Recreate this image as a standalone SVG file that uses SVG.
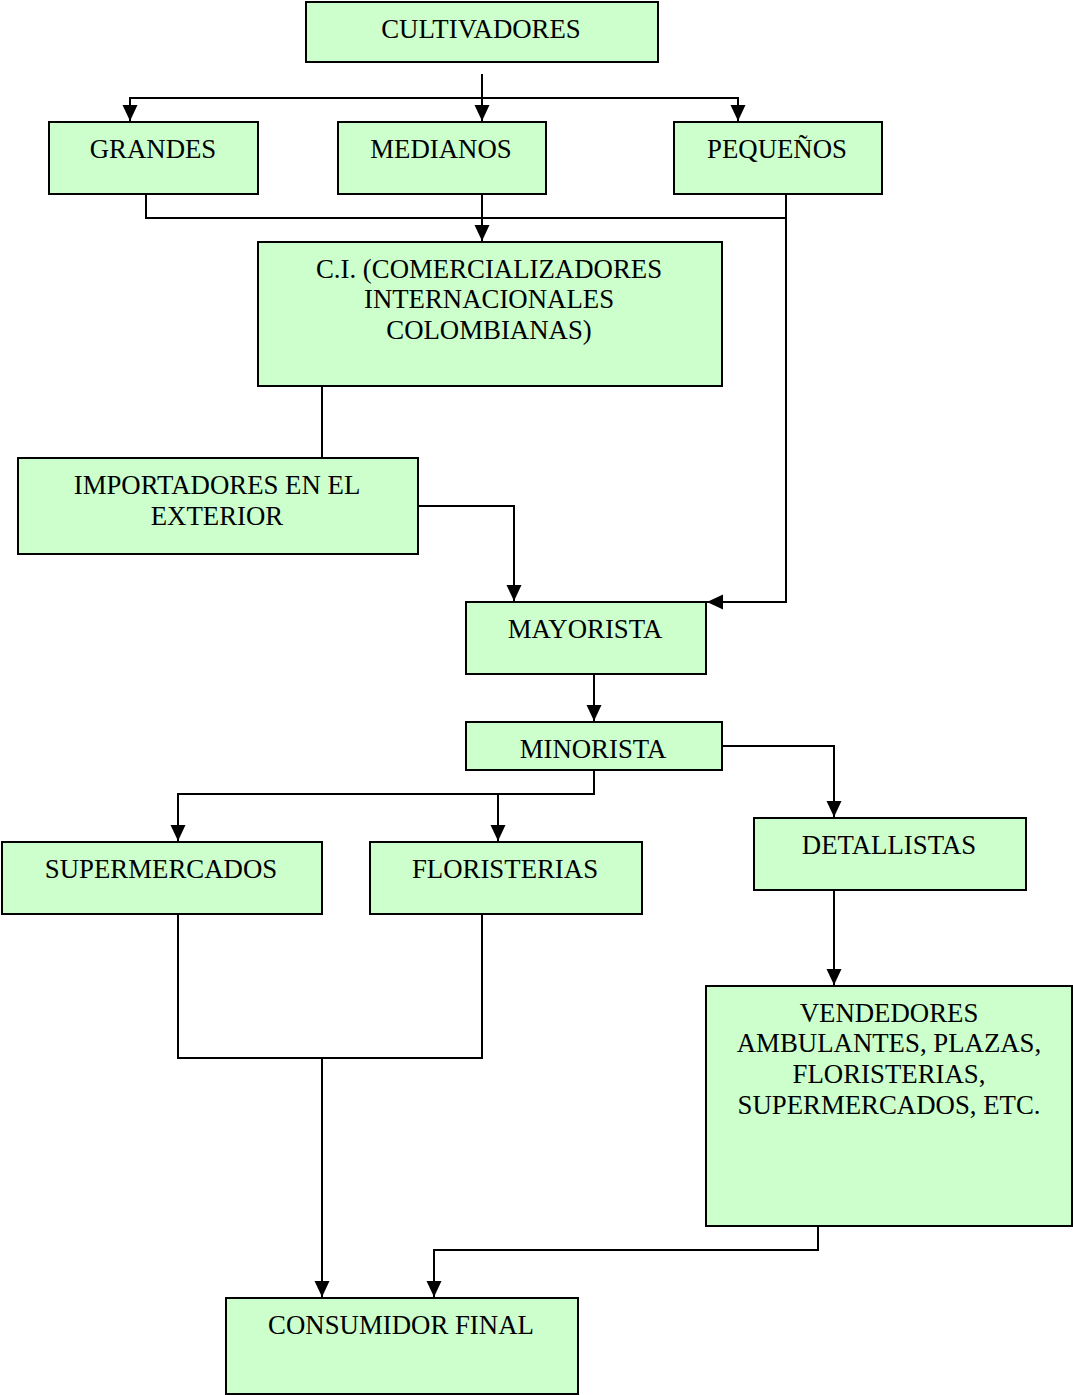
<svg xmlns="http://www.w3.org/2000/svg" width="1073" height="1395" viewBox="0 0 1073 1395">
<style>
.box{fill:#CCFFCC;stroke:#000;stroke-width:2}
.t{font-family:"Liberation Serif","Times New Roman",serif;font-size:26.8px;fill:#000;text-anchor:middle}
.c{fill:none;stroke:#000;stroke-width:2}
</style>
<defs>
<marker id="ah" markerUnits="userSpaceOnUse" markerWidth="16" markerHeight="17" viewBox="0 0 16 17" refX="16" refY="8.5" orient="auto">
<path d="M0,1 L16,8.5 L0,16 Z" fill="#000"/>
</marker>
</defs>
<rect width="1073" height="1395" fill="#fff"/>
<g id="connectors">
<path class="c" d="M482,74 V121" marker-end="url(#ah)"/>
<path class="c" d="M130,121 V98 H738 V121" marker-end="url(#ah)"/>
<path class="c" d="M130,98 V121" marker-end="url(#ah)"/>
<path class="c" d="M146,194 V218 H786"/>
<path class="c" d="M482,194 V241" marker-end="url(#ah)"/>
<path class="c" d="M786,194 V602 H707" marker-end="url(#ah)"/>
<path class="c" d="M322,386 V458"/>
<path class="c" d="M418,506 H514 V601" marker-end="url(#ah)"/>
<path class="c" d="M594,674 V721" marker-end="url(#ah)"/>
<path class="c" d="M722,746 H834 V817" marker-end="url(#ah)"/>
<path class="c" d="M594,770 V794 H178 V841" marker-end="url(#ah)"/>
<path class="c" d="M498,794 V841" marker-end="url(#ah)"/>
<path class="c" d="M834,890 V985" marker-end="url(#ah)"/>
<path class="c" d="M178,914 V1058 H482 V914"/>
<path class="c" d="M322,1058 V1297" marker-end="url(#ah)"/>
<path class="c" d="M818,1226 V1250 H434 V1297" marker-end="url(#ah)"/>
</g>
<g id="cultivadores"><rect class="box" x="306" y="2" width="352" height="60"/><text class="t" x="481" y="38">CULTIVADORES</text></g>
<g id="grandes"><rect class="box" x="49" y="122" width="209" height="72"/><text class="t" x="153" y="158">GRANDES</text></g>
<g id="medianos"><rect class="box" x="338" y="122" width="208" height="72"/><text class="t" x="441" y="158">MEDIANOS</text></g>
<g id="pequenos"><rect class="box" x="674" y="122" width="208" height="72"/><text class="t" x="777" y="158">PEQUEÑOS</text></g>
<g id="ci"><rect class="box" x="258" y="242" width="464" height="144"/><text class="t" x="489" y="278">C.I. (COMERCIALIZADORES</text><text class="t" x="489" y="308">INTERNACIONALES</text><text class="t" x="489" y="339">COLOMBIANAS)</text></g>
<g id="importadores"><rect class="box" x="18" y="458" width="400" height="96"/><text class="t" x="217" y="494">IMPORTADORES EN EL</text><text class="t" x="217" y="525">EXTERIOR</text></g>
<g id="mayorista"><rect class="box" x="466" y="602" width="240" height="72"/><text class="t" x="585" y="638">MAYORISTA</text></g>
<g id="minorista"><rect class="box" x="466" y="722" width="256" height="48"/><text class="t" x="593" y="758">MINORISTA</text></g>
<g id="supermercados"><rect class="box" x="2" y="842" width="320" height="72"/><text class="t" x="161" y="878">SUPERMERCADOS</text></g>
<g id="floristerias"><rect class="box" x="370" y="842" width="272" height="72"/><text class="t" x="505" y="878">FLORISTERIAS</text></g>
<g id="detallistas"><rect class="box" x="754" y="818" width="272" height="72"/><text class="t" x="889" y="854">DETALLISTAS</text></g>
<g id="vendedores"><rect class="box" x="706" y="986" width="366" height="240"/><text class="t" x="889" y="1022">VENDEDORES</text><text class="t" x="889" y="1052">AMBULANTES, PLAZAS,</text><text class="t" x="889" y="1083">FLORISTERIAS,</text><text class="t" x="889" y="1114">SUPERMERCADOS, ETC.</text></g>
<g id="consumidor"><rect class="box" x="226" y="1298" width="352" height="96"/><text class="t" x="401" y="1334">CONSUMIDOR FINAL</text></g>
</svg>
